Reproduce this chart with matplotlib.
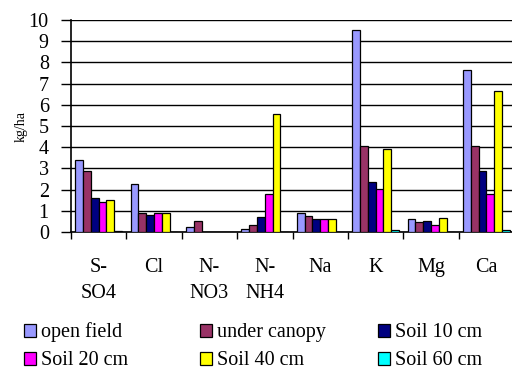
import numpy as np
import matplotlib
matplotlib.use("Agg")
import matplotlib.pyplot as plt

plt.rcParams['font.family'] = ['Liberation Serif', 'DejaVu Serif']

categories = ["S-\nSO4", "Cl", "N-\nNO3", "N-\nNH4", "Na", "K", "Mg", "Ca"]
series_names = ["open field", "under canopy", "Soil 10 cm",
                "Soil 20 cm", "Soil 40 cm", "Soil 60 cm"]
open_field   = [3.40, 2.25, 0.25, 0.15, 0.90, 9.55, 0.60, 7.65]
under_canopy = [2.90, 0.90, 0.50, 0.35, 0.75, 4.05, 0.45, 4.05]
soil_10      = [1.60, 0.80, 0.00, 0.70, 0.60, 2.35, 0.50, 2.90]
soil_20      = [1.40, 0.90, 0.00, 1.80, 0.60, 2.05, 0.35, 1.80]
soil_40      = [1.50, 0.90, 0.00, 5.55, 0.60, 3.90, 0.65, 6.65]
soil_60      = [0.05, 0.00, 0.00, 0.00, 0.00, 0.10, 0.00, 0.10]
series = [open_field, under_canopy, soil_10, soil_20, soil_40, soil_60]
colors = ["#9999FF", "#993366", "#000080", "#FF00FF", "#FFFF00", "#00FFFF"]
yticks = list(range(0, 11))

fig = plt.figure(figsize=(5.12, 3.69), dpi=100)
ax = fig.add_axes([71 / 512, 1 - 232 / 369, 443 / 512, 212 / 369])

n = len(series)
width = 0.141
centers = np.arange(len(categories)) + 0.5
handles = []
for k, (vals, col, name) in enumerate(zip(series, colors, series_names)):
    x = centers + (k - (n - 1) / 2) * width
    h = ax.bar(x, vals, width=width, color=col, edgecolor="black",
               linewidth=0.9, label=name, zorder=3)
    handles.append(h)

ax.set_xlim(0, len(categories))
ax.set_ylim(0, 10)
ax.set_yticks(yticks)
ax.set_yticklabels([str(t) for t in yticks], fontsize=14.5)
ax.yaxis.grid(True, color="black", linewidth=1.0, zorder=0)
ax.set_axisbelow(True)

ax.set_xticks(centers)
ax.set_xticklabels(categories, fontsize=14.5)
for t in ax.get_xticklabels():
    t.set_verticalalignment("top")
    t.set_linespacing(1.45)
ax.set_xticks(np.arange(len(categories) + 1), minor=True)
ax.tick_params(axis="x", which="major", length=0, pad=19)
ax.tick_params(axis="x", which="minor", length=5, width=1, direction="out")
ax.tick_params(axis="y", length=7, width=1, pad=9)

for s in ["top", "right"]:
    ax.spines[s].set_visible(False)
ax.spines["left"].set_linewidth(1.2)
ax.spines["bottom"].set_linewidth(1.2)

ax.set_ylabel("kg/ha", fontsize=10, labelpad=1)

# legend laid out in three equal-width columns
col_x = [10 / 512, 186 / 512, 364 / 512]
order = [(0, 3), (1, 4), (2, 5)]
for cx, (a, b) in zip(col_x, order):
    fig.legend([handles[a], handles[b]], [series_names[a], series_names[b]],
               loc="lower left", bbox_to_anchor=(cx, -0.042),
               frameon=False, fontsize=14.5, handlelength=0.6,
               handleheight=0.6, handletextpad=0.25, labelspacing=0.45,
               borderpad=0.2)

fig.savefig("out.png", dpi=100)
